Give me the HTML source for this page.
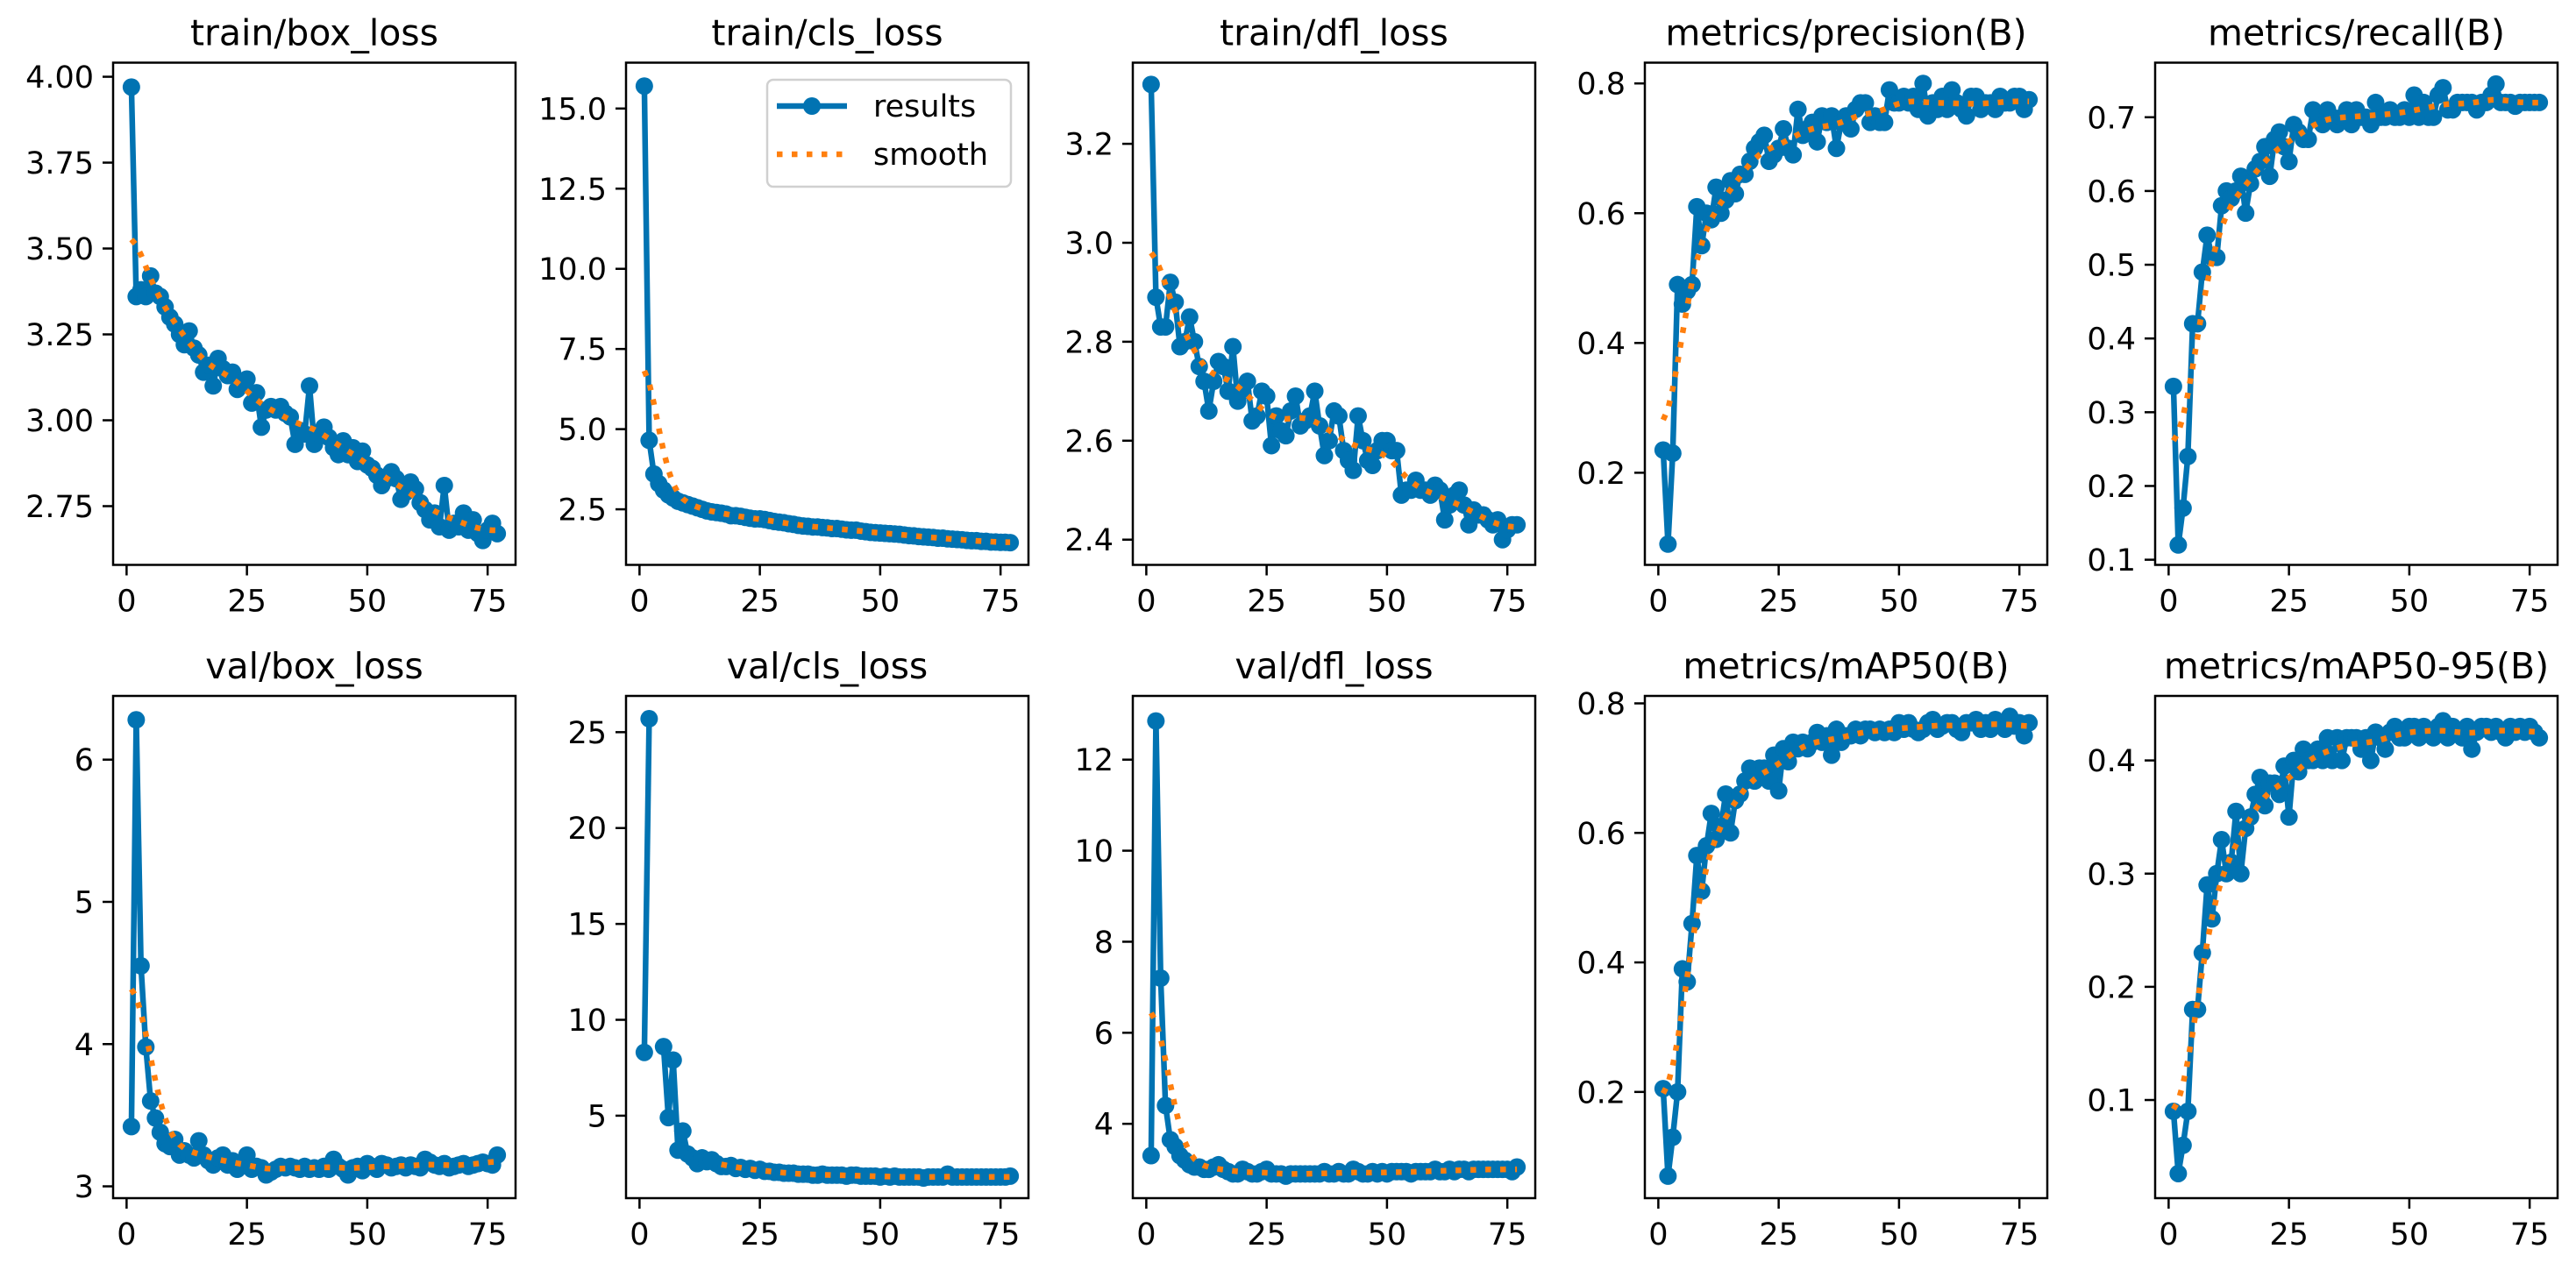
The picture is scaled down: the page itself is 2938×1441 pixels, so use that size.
<!DOCTYPE html>
<html><head><meta charset="utf-8">
<style>
html,body{margin:0;padding:0;background:#fff;}
svg{display:block;font-family:"DejaVu Sans","Liberation Sans",sans-serif;}
</style></head>
<body>
<svg id="fig" width="2938" height="1441" viewBox="0 0 2938 1441" xmlns="http://www.w3.org/2000/svg">
<rect width="2938" height="1441" fill="#fff"/>
</svg>
<script>
const titles = ["train/box_loss","train/cls_loss","train/dfl_loss","metrics/precision(B)","metrics/recall(B)","val/box_loss","val/cls_loss","val/dfl_loss","metrics/mAP50(B)","metrics/mAP50-95(B)"];
const trainBox = [3.97,3.36,3.38,3.36,3.42,3.37,3.36,3.33,3.30,3.28,3.25,3.22,3.26,3.21,3.19,3.14,3.16,3.10,3.18,3.15,3.13,3.14,3.09,3.11,3.12,3.05,3.08,2.98,3.03,3.04,3.03,3.04,3.02,3.01,2.93,2.97,2.96,3.10,2.93,2.96,2.98,2.95,2.92,2.90,2.94,2.90,2.92,2.88,2.91,2.87,2.86,2.84,2.81,2.83,2.85,2.83,2.77,2.79,2.82,2.80,2.76,2.74,2.71,2.73,2.69,2.81,2.68,2.70,2.69,2.73,2.68,2.71,2.67,2.65,2.68,2.70,2.67];
const trainCls = [15.7,4.65,3.6,3.3,3.1,2.95,2.85,2.75,2.7,2.65,2.6,2.55,2.5,2.45,2.42,2.4,2.38,2.35,2.3,2.3,2.28,2.25,2.22,2.2,2.2,2.18,2.15,2.12,2.1,2.08,2.05,2.03,2.0,1.98,1.97,1.95,1.95,1.93,1.92,1.9,1.9,1.88,1.86,1.85,1.85,1.82,1.8,1.78,1.77,1.76,1.75,1.74,1.73,1.72,1.7,1.68,1.67,1.65,1.64,1.63,1.62,1.6,1.6,1.58,1.57,1.56,1.55,1.53,1.52,1.52,1.5,1.5,1.48,1.48,1.47,1.47,1.46];
const trainDfl = [3.32,2.89,2.83,2.83,2.92,2.88,2.79,2.80,2.85,2.80,2.75,2.72,2.66,2.72,2.76,2.75,2.70,2.79,2.68,2.70,2.72,2.64,2.65,2.70,2.69,2.59,2.65,2.62,2.61,2.66,2.69,2.63,2.64,2.65,2.70,2.63,2.57,2.60,2.66,2.65,2.58,2.56,2.54,2.65,2.60,2.56,2.55,2.58,2.60,2.60,2.58,2.58,2.49,2.50,2.50,2.52,2.50,2.50,2.49,2.51,2.50,2.44,2.47,2.49,2.50,2.47,2.43,2.46,2.45,2.45,2.44,2.43,2.44,2.40,2.42,2.43,2.43];
const precision = [0.235,0.09,0.23,0.49,0.46,0.48,0.49,0.61,0.55,0.60,0.59,0.64,0.60,0.62,0.65,0.63,0.66,0.66,0.68,0.70,0.71,0.72,0.68,0.69,0.70,0.73,0.70,0.69,0.76,0.72,0.73,0.74,0.71,0.75,0.74,0.75,0.70,0.74,0.75,0.73,0.76,0.77,0.77,0.74,0.75,0.74,0.74,0.79,0.77,0.77,0.78,0.77,0.78,0.76,0.80,0.75,0.77,0.76,0.78,0.76,0.79,0.77,0.76,0.75,0.78,0.78,0.76,0.77,0.77,0.76,0.78,0.77,0.77,0.78,0.78,0.76,0.775];
const recall = [0.335,0.12,0.17,0.24,0.42,0.42,0.49,0.54,0.51,0.51,0.58,0.60,0.59,0.60,0.62,0.57,0.61,0.63,0.64,0.66,0.62,0.67,0.68,0.66,0.64,0.69,0.68,0.67,0.67,0.71,0.70,0.69,0.71,0.70,0.69,0.70,0.71,0.69,0.71,0.70,0.70,0.69,0.72,0.70,0.70,0.71,0.70,0.70,0.71,0.70,0.73,0.70,0.72,0.70,0.70,0.73,0.74,0.71,0.71,0.72,0.72,0.72,0.72,0.71,0.72,0.72,0.73,0.745,0.72,0.72,0.72,0.715,0.72,0.72,0.72,0.72,0.72];
const valBox = [3.42,6.28,4.55,3.98,3.60,3.48,3.38,3.30,3.28,3.33,3.22,3.25,3.22,3.20,3.32,3.22,3.18,3.15,3.20,3.22,3.15,3.18,3.12,3.15,3.22,3.12,3.14,3.13,3.08,3.10,3.12,3.14,3.13,3.14,3.13,3.12,3.14,3.12,3.13,3.12,3.14,3.12,3.19,3.14,3.12,3.08,3.13,3.14,3.11,3.16,3.14,3.12,3.16,3.15,3.13,3.14,3.15,3.13,3.15,3.14,3.13,3.19,3.17,3.15,3.14,3.16,3.13,3.14,3.15,3.16,3.14,3.15,3.16,3.17,3.16,3.15,3.22];
const valCls = [8.3,25.7,null,null,8.6,4.9,7.9,3.2,4.2,3.0,2.8,2.5,2.8,2.6,2.7,2.5,2.35,2.35,2.4,2.25,2.3,2.2,2.25,2.15,2.2,2.1,2.1,2.05,2.05,2.0,2.0,2.0,1.95,1.95,1.95,1.9,1.9,1.95,1.9,1.9,1.9,1.9,1.85,1.9,1.9,1.85,1.85,1.85,1.85,1.8,1.85,1.8,1.85,1.8,1.8,1.8,1.8,1.8,1.75,1.8,1.8,1.8,1.8,1.95,1.8,1.8,1.8,1.8,1.8,1.8,1.8,1.8,1.8,1.8,1.8,1.8,1.85];
const valDfl = [3.3,12.85,7.2,4.4,3.65,3.5,3.3,3.2,3.1,3.05,3.05,3.0,3.0,3.05,3.1,3.0,2.95,2.9,2.9,3.0,2.95,2.9,2.9,2.95,3.0,2.9,2.9,2.9,2.85,2.9,2.9,2.9,2.9,2.9,2.9,2.9,2.95,2.9,2.9,2.95,2.9,2.9,3.0,2.95,2.9,2.9,2.95,2.9,2.95,2.9,2.95,2.95,2.95,2.95,2.9,2.95,2.95,2.95,2.95,3.0,2.95,2.95,3.0,2.95,3.0,3.0,2.95,3.0,3.0,3.0,3.0,3.0,3.0,3.0,3.0,2.95,3.05];
const map50 = [0.205,0.07,0.13,0.20,0.39,0.37,0.46,0.565,0.51,0.58,0.63,0.59,0.61,0.66,0.60,0.65,0.66,0.68,0.70,0.68,0.70,0.70,0.68,0.72,0.665,0.73,0.71,0.74,0.73,0.74,0.73,0.74,0.755,0.74,0.75,0.72,0.76,0.74,0.75,0.75,0.76,0.75,0.76,0.76,0.755,0.76,0.755,0.76,0.755,0.77,0.76,0.77,0.76,0.755,0.76,0.77,0.775,0.76,0.765,0.77,0.77,0.76,0.755,0.77,0.77,0.775,0.76,0.77,0.76,0.775,0.77,0.76,0.78,0.765,0.77,0.75,0.77];
const map5095 = [0.09,0.035,0.06,0.09,0.18,0.18,0.23,0.29,0.26,0.30,0.33,0.30,0.31,0.355,0.30,0.34,0.35,0.37,0.385,0.36,0.38,0.38,0.37,0.395,0.35,0.40,0.39,0.41,0.40,0.40,0.41,0.40,0.42,0.40,0.42,0.40,0.42,0.42,0.42,0.41,0.42,0.40,0.425,0.42,0.41,0.425,0.43,0.42,0.42,0.43,0.43,0.42,0.43,0.425,0.42,0.43,0.435,0.42,0.43,0.425,0.42,0.43,0.41,0.425,0.43,0.43,0.425,0.43,0.425,0.42,0.43,0.425,0.43,0.425,0.43,0.425,0.42];
const seriesList = [trainBox,trainCls,trainDfl,precision,recall,valBox,valCls,valDfl,map50,map5095];
const yTicks = [[2.75,3.00,3.25,3.50,3.75,4.00],[2.5,5.0,7.5,10.0,12.5,15.0],[2.4,2.6,2.8,3.0,3.2],[0.2,0.4,0.6,0.8],[0.1,0.2,0.3,0.4,0.5,0.6,0.7],[3,4,5,6],[5,10,15,20,25],[4,6,8,10,12],[0.2,0.4,0.6,0.8],[0.1,0.2,0.3,0.4]];
const yDecimals = [2,1,1,1,1,0,0,0,1,1];
const yRanges = [[2.579,4.041],[0.766,16.43],[2.349,3.364],[0.058,0.832],[0.093,0.774],[2.917,6.448],[0.70,26.89],[2.367,13.40],[0.036,0.8115],[0.0133,0.457]];
const xTicks = [0,25,50,75];

const NS = "http://www.w3.org/2000/svg";
const svg = document.getElementById('fig');
const colLeft = [129,714,1292,1876,2458];
const rowTop = [71.5,794];
const W = 459, H = 573;
const BLUE = "#0173b2", ORANGE = "#ff7f0e";
function mk(tag, attrs, parent){const e=document.createElementNS(NS,tag);for(const k in attrs)e.setAttribute(k,attrs[k]);(parent||svg).appendChild(e);return e;}

function smooth(y){
  const sigma=3, r=12, n=y.length, w=[];
  let s=0; for(let k=-r;k<=r;k++){const v=Math.exp(-0.5*k*k/(sigma*sigma));w.push(v);s+=v;}
  const out=[];
  for(let i=0;i<n;i++){
    let acc=0, bad=false;
    for(let k=-r;k<=r;k++){
      let j=i+k; if(j<0) j=-j-1; if(j>=n) j=2*n-j-1;
      const v=y[j]; if(v===null||v===undefined){bad=true;break;}
      acc+=v*w[k+r]/s;
    }
    out.push(bad?null:acc);
  }
  return out;
}

seriesList.forEach((data, p) => {
  const left = colLeft[p%5], top = rowTop[Math.floor(p/5)];
  const [y0,y1] = yRanges[p];
  const xs = v => left + (v + 2.8) / 83.6 * W;
  const ys = v => top + H - (v - y0) / (y1 - y0) * H;
  const g = mk('g', {});
  
  

  const t = mk('text', {x: left + W/2, y: top - 20, 'text-anchor':'middle', 'font-size':41, fill:'#000'}, g);
  t.textContent = titles[p];
  
  

  yTicks[p].forEach(v => {
    const y = ys(v);
    const tl = mk('line', {x1:left-12, x2:left, y1:y, y2:y, stroke:'#000', 'stroke-width':2.5}, g);
    
    
    const tx = mk('text', {x:left-22, y:y+12.5, 'text-anchor':'end', 'font-size':35, fill:'#000'}, g);
    tx.textContent = v.toFixed(yDecimals[p]);
    
    
  });
  xTicks.forEach(v => {
    const x = xs(v);
    const tl = mk('line', {x1:x, x2:x, y1:top+H, y2:top+H+12, stroke:'#000', 'stroke-width':2.5}, g);
    
    
    const tx = mk('text', {x:x, y:top+H+53, 'text-anchor':'middle', 'font-size':35, fill:'#000'}, g);
    tx.textContent = String(v);
    
    
  });

  const cid = 'clip'+p;
  const cp = mk('clipPath', {id:cid}, g);
  mk('rect', {x:left, y:top, width:W, height:H}, cp);
  const plot = mk('g', {'clip-path':'url(#'+cid+')'}, g);

  let segs=[], cur=[];
  data.forEach((v,i)=>{ if(v===null){ if(cur.length) segs.push(cur); cur=[]; } else cur.push(xs(i+1).toFixed(1)+','+ys(v).toFixed(1)); });
  if(cur.length) segs.push(cur);
  segs.forEach(sg=>{
    const pl = mk('polyline', {points:sg.join(' '), fill:'none', stroke:BLUE, 'stroke-width':6.5, 'stroke-linejoin':'round'}, plot);
    
    
  });
  data.forEach((v,i)=>{
    if(v===null) return;
    const c = mk('circle', {cx:xs(i+1), cy:ys(v), r:10, fill:BLUE}, plot);
    
    
  });
  const sm = smooth(data);
  let ss=[], sc=[];
  sm.forEach((v,i)=>{ if(v===null){ if(sc.length) ss.push(sc); sc=[]; } else sc.push(xs(i+1).toFixed(1)+','+ys(v).toFixed(1)); });
  if(sc.length) ss.push(sc);
  ss.forEach(sg=>{
    const pl = mk('polyline', {points:sg.join(' '), fill:'none', stroke:ORANGE, 'stroke-width':6.5, 'stroke-dasharray':'6.5 10.5'}, plot);
    
    
  });

  const fr = mk('rect', {x:left, y:top, width:W, height:H, fill:'none', stroke:'#000', 'stroke-width':2.5}, g);
  
  
});

const lg = mk('g', {});


mk('rect', {x:875, y:91, width:278, height:122, rx:7, fill:'#fff', 'fill-opacity':0.85, stroke:'#d0d0d0', 'stroke-width':2.5}, lg);
const l1 = mk('line', {x1:886, x2:966, y1:121, y2:121, stroke:BLUE, 'stroke-width':6.5}, lg);


mk('circle', {cx:926, cy:121, r:10, fill:BLUE}, lg);
const t1 = mk('text', {x:996, y:133, 'font-size':35, fill:'#000'}, lg);
t1.textContent = 'results';


const l2 = mk('line', {x1:886, x2:966, y1:176, y2:176, stroke:ORANGE, 'stroke-width':6.5, 'stroke-dasharray':'6.5 10.5'}, lg);


const t2 = mk('text', {x:996, y:188, 'font-size':35, fill:'#000'}, lg);
t2.textContent = 'smooth';


</script>
</body></html>
